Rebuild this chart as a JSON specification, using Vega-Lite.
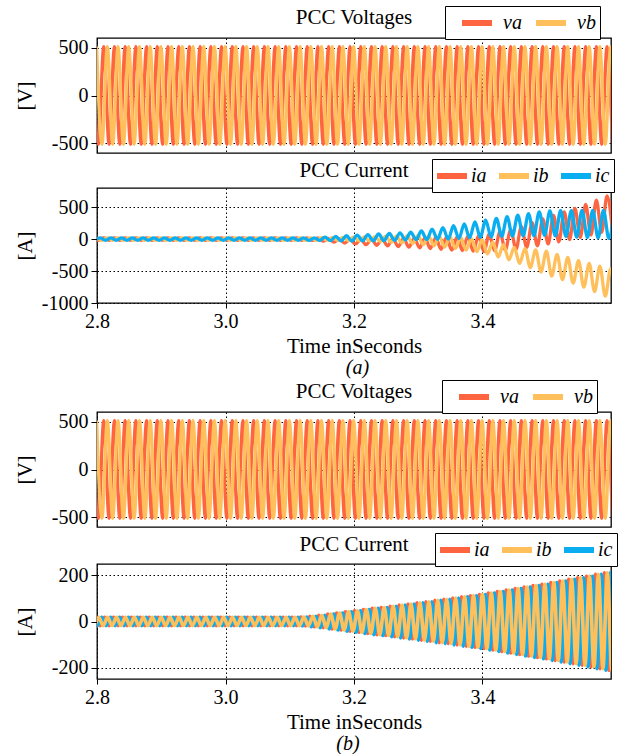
{
"$schema":"https://vega.github.io/schema/vega-lite/v6.json",
"padding":{"left":13,"top":4,"right":4,"bottom":0},
"datasets":{
"volt":[
{"t":2.7938,"v":510,"s":"va"},{"t":2.8022,"v":-510,"s":"va"},{"t":2.8105,"v":510,"s":"va"},{"t":2.8188,"v":-510,"s":"va"},{"t":2.8272,"v":510,"s":"va"},{"t":2.8355,"v":-510,"s":"va"},{"t":2.8438,"v":510,"s":"va"},{"t":2.8522,"v":-510,"s":"va"},{"t":2.8605,"v":510,"s":"va"},{"t":2.8688,"v":-510,"s":"va"},{"t":2.8772,"v":510,"s":"va"},{"t":2.8855,"v":-510,"s":"va"},{"t":2.8938,"v":510,"s":"va"},{"t":2.9022,"v":-510,"s":"va"},{"t":2.9105,"v":510,"s":"va"},{"t":2.9188,"v":-510,"s":"va"},{"t":2.9272,"v":510,"s":"va"},{"t":2.9355,"v":-510,"s":"va"},{"t":2.9438,"v":510,"s":"va"},{"t":2.9522,"v":-510,"s":"va"},{"t":2.9605,"v":510,"s":"va"},{"t":2.9688,"v":-510,"s":"va"},{"t":2.9772,"v":510,"s":"va"},{"t":2.9855,"v":-510,"s":"va"},{"t":2.9938,"v":510,"s":"va"},{"t":3.0022,"v":-510,"s":"va"},{"t":3.0105,"v":510,"s":"va"},{"t":3.0188,"v":-510,"s":"va"},{"t":3.0272,"v":510,"s":"va"},{"t":3.0355,"v":-510,"s":"va"},{"t":3.0438,"v":510,"s":"va"},{"t":3.0522,"v":-510,"s":"va"},{"t":3.0605,"v":510,"s":"va"},{"t":3.0688,"v":-510,"s":"va"},{"t":3.0772,"v":510,"s":"va"},{"t":3.0855,"v":-510,"s":"va"},{"t":3.0938,"v":510,"s":"va"},{"t":3.1022,"v":-510,"s":"va"},{"t":3.1105,"v":510,"s":"va"},{"t":3.1188,"v":-510,"s":"va"},{"t":3.1272,"v":510,"s":"va"},{"t":3.1355,"v":-510,"s":"va"},{"t":3.1438,"v":510,"s":"va"},{"t":3.1522,"v":-510,"s":"va"},{"t":3.1605,"v":510,"s":"va"},{"t":3.1688,"v":-510,"s":"va"},{"t":3.1772,"v":510,"s":"va"},{"t":3.1855,"v":-510,"s":"va"},{"t":3.1938,"v":510,"s":"va"},{"t":3.2022,"v":-510,"s":"va"},{"t":3.2105,"v":510,"s":"va"},{"t":3.2188,"v":-510,"s":"va"},{"t":3.2272,"v":510,"s":"va"},{"t":3.2355,"v":-510,"s":"va"},{"t":3.2438,"v":510,"s":"va"},{"t":3.2522,"v":-510,"s":"va"},{"t":3.2605,"v":510,"s":"va"},{"t":3.2688,"v":-510,"s":"va"},{"t":3.2772,"v":510,"s":"va"},{"t":3.2855,"v":-510,"s":"va"},{"t":3.2938,"v":510,"s":"va"},{"t":3.3022,"v":-510,"s":"va"},{"t":3.3105,"v":510,"s":"va"},{"t":3.3188,"v":-510,"s":"va"},{"t":3.3272,"v":510,"s":"va"},{"t":3.3355,"v":-510,"s":"va"},{"t":3.3438,"v":510,"s":"va"},{"t":3.3522,"v":-510,"s":"va"},{"t":3.3605,"v":510,"s":"va"},{"t":3.3688,"v":-510,"s":"va"},{"t":3.3772,"v":510,"s":"va"},{"t":3.3855,"v":-510,"s":"va"},{"t":3.3938,"v":510,"s":"va"},{"t":3.4022,"v":-510,"s":"va"},{"t":3.4105,"v":510,"s":"va"},{"t":3.4188,"v":-510,"s":"va"},{"t":3.4272,"v":510,"s":"va"},{"t":3.4355,"v":-510,"s":"va"},{"t":3.4438,"v":510,"s":"va"},{"t":3.4522,"v":-510,"s":"va"},{"t":3.4605,"v":510,"s":"va"},{"t":3.4688,"v":-510,"s":"va"},{"t":3.4772,"v":510,"s":"va"},{"t":3.4855,"v":-510,"s":"va"},{"t":3.4938,"v":510,"s":"va"},{"t":3.5022,"v":-510,"s":"va"},{"t":3.5105,"v":510,"s":"va"},{"t":3.5188,"v":-510,"s":"va"},{"t":3.5272,"v":510,"s":"va"},{"t":3.5355,"v":-510,"s":"va"},{"t":3.5438,"v":510,"s":"va"},{"t":3.5522,"v":-510,"s":"va"},{"t":3.5605,"v":510,"s":"va"},{"t":3.5688,"v":-510,"s":"va"},{"t":3.5772,"v":510,"s":"va"},{"t":3.5855,"v":-510,"s":"va"},{"t":3.5938,"v":510,"s":"va"},{"t":3.6022,"v":-510,"s":"va"},
{"t":2.7994,"v":510,"s":"vb"},{"t":2.8077,"v":-510,"s":"vb"},{"t":2.8161,"v":510,"s":"vb"},{"t":2.8244,"v":-510,"s":"vb"},{"t":2.8327,"v":510,"s":"vb"},{"t":2.8411,"v":-510,"s":"vb"},{"t":2.8494,"v":510,"s":"vb"},{"t":2.8577,"v":-510,"s":"vb"},{"t":2.8661,"v":510,"s":"vb"},{"t":2.8744,"v":-510,"s":"vb"},{"t":2.8827,"v":510,"s":"vb"},{"t":2.8911,"v":-510,"s":"vb"},{"t":2.8994,"v":510,"s":"vb"},{"t":2.9077,"v":-510,"s":"vb"},{"t":2.9161,"v":510,"s":"vb"},{"t":2.9244,"v":-510,"s":"vb"},{"t":2.9327,"v":510,"s":"vb"},{"t":2.9411,"v":-510,"s":"vb"},{"t":2.9494,"v":510,"s":"vb"},{"t":2.9577,"v":-510,"s":"vb"},{"t":2.9661,"v":510,"s":"vb"},{"t":2.9744,"v":-510,"s":"vb"},{"t":2.9827,"v":510,"s":"vb"},{"t":2.9911,"v":-510,"s":"vb"},{"t":2.9994,"v":510,"s":"vb"},{"t":3.0077,"v":-510,"s":"vb"},{"t":3.0161,"v":510,"s":"vb"},{"t":3.0244,"v":-510,"s":"vb"},{"t":3.0327,"v":510,"s":"vb"},{"t":3.0411,"v":-510,"s":"vb"},{"t":3.0494,"v":510,"s":"vb"},{"t":3.0577,"v":-510,"s":"vb"},{"t":3.0661,"v":510,"s":"vb"},{"t":3.0744,"v":-510,"s":"vb"},{"t":3.0827,"v":510,"s":"vb"},{"t":3.0911,"v":-510,"s":"vb"},{"t":3.0994,"v":510,"s":"vb"},{"t":3.1077,"v":-510,"s":"vb"},{"t":3.1161,"v":510,"s":"vb"},{"t":3.1244,"v":-510,"s":"vb"},{"t":3.1327,"v":510,"s":"vb"},{"t":3.1411,"v":-510,"s":"vb"},{"t":3.1494,"v":510,"s":"vb"},{"t":3.1577,"v":-510,"s":"vb"},{"t":3.1661,"v":510,"s":"vb"},{"t":3.1744,"v":-510,"s":"vb"},{"t":3.1827,"v":510,"s":"vb"},{"t":3.1911,"v":-510,"s":"vb"},{"t":3.1994,"v":510,"s":"vb"},{"t":3.2077,"v":-510,"s":"vb"},{"t":3.2161,"v":510,"s":"vb"},{"t":3.2244,"v":-510,"s":"vb"},{"t":3.2327,"v":510,"s":"vb"},{"t":3.2411,"v":-510,"s":"vb"},{"t":3.2494,"v":510,"s":"vb"},{"t":3.2577,"v":-510,"s":"vb"},{"t":3.2661,"v":510,"s":"vb"},{"t":3.2744,"v":-510,"s":"vb"},{"t":3.2827,"v":510,"s":"vb"},{"t":3.2911,"v":-510,"s":"vb"},{"t":3.2994,"v":510,"s":"vb"},{"t":3.3077,"v":-510,"s":"vb"},{"t":3.3161,"v":510,"s":"vb"},{"t":3.3244,"v":-510,"s":"vb"},{"t":3.3327,"v":510,"s":"vb"},{"t":3.3411,"v":-510,"s":"vb"},{"t":3.3494,"v":510,"s":"vb"},{"t":3.3577,"v":-510,"s":"vb"},{"t":3.3661,"v":510,"s":"vb"},{"t":3.3744,"v":-510,"s":"vb"},{"t":3.3827,"v":510,"s":"vb"},{"t":3.3911,"v":-510,"s":"vb"},{"t":3.3994,"v":510,"s":"vb"},{"t":3.4077,"v":-510,"s":"vb"},{"t":3.4161,"v":510,"s":"vb"},{"t":3.4244,"v":-510,"s":"vb"},{"t":3.4327,"v":510,"s":"vb"},{"t":3.4411,"v":-510,"s":"vb"},{"t":3.4494,"v":510,"s":"vb"},{"t":3.4577,"v":-510,"s":"vb"},{"t":3.4661,"v":510,"s":"vb"},{"t":3.4744,"v":-510,"s":"vb"},{"t":3.4827,"v":510,"s":"vb"},{"t":3.4911,"v":-510,"s":"vb"},{"t":3.4994,"v":510,"s":"vb"},{"t":3.5077,"v":-510,"s":"vb"},{"t":3.5161,"v":510,"s":"vb"},{"t":3.5244,"v":-510,"s":"vb"},{"t":3.5327,"v":510,"s":"vb"},{"t":3.5411,"v":-510,"s":"vb"},{"t":3.5494,"v":510,"s":"vb"},{"t":3.5577,"v":-510,"s":"vb"},{"t":3.5661,"v":510,"s":"vb"},{"t":3.5744,"v":-510,"s":"vb"},{"t":3.5827,"v":510,"s":"vb"},{"t":3.5911,"v":-510,"s":"vb"},{"t":3.5994,"v":510,"s":"vb"},{"t":3.6077,"v":-510,"s":"vb"}
],
"curA":[
{"t":2.7938,"v":18,"s":"ia"},{"t":2.8022,"v":-18,"s":"ia"},{"t":2.8105,"v":18,"s":"ia"},{"t":2.8188,"v":-18,"s":"ia"},{"t":2.8272,"v":18,"s":"ia"},{"t":2.8355,"v":-18,"s":"ia"},{"t":2.8438,"v":18,"s":"ia"},{"t":2.8522,"v":-18,"s":"ia"},{"t":2.8605,"v":18,"s":"ia"},{"t":2.8688,"v":-18,"s":"ia"},{"t":2.8772,"v":18,"s":"ia"},{"t":2.8855,"v":-18,"s":"ia"},{"t":2.8938,"v":18,"s":"ia"},{"t":2.9022,"v":-18,"s":"ia"},{"t":2.9105,"v":18,"s":"ia"},{"t":2.9188,"v":-18,"s":"ia"},{"t":2.9272,"v":18,"s":"ia"},{"t":2.9355,"v":-18,"s":"ia"},{"t":2.9438,"v":18,"s":"ia"},{"t":2.9522,"v":-18,"s":"ia"},{"t":2.9605,"v":18,"s":"ia"},{"t":2.9688,"v":-18,"s":"ia"},{"t":2.9772,"v":18,"s":"ia"},{"t":2.9855,"v":-18,"s":"ia"},{"t":2.9938,"v":18,"s":"ia"},{"t":3.0022,"v":-18,"s":"ia"},{"t":3.0105,"v":18,"s":"ia"},{"t":3.0188,"v":-18,"s":"ia"},{"t":3.0272,"v":18,"s":"ia"},{"t":3.0355,"v":-18,"s":"ia"},{"t":3.0438,"v":18,"s":"ia"},{"t":3.0522,"v":-18,"s":"ia"},{"t":3.0605,"v":18,"s":"ia"},{"t":3.0688,"v":-18,"s":"ia"},{"t":3.0772,"v":18,"s":"ia"},{"t":3.0855,"v":-18,"s":"ia"},{"t":3.0938,"v":18,"s":"ia"},{"t":3.1022,"v":-18,"s":"ia"},{"t":3.1105,"v":18,"s":"ia"},{"t":3.1188,"v":-18,"s":"ia"},{"t":3.1272,"v":18,"s":"ia"},{"t":3.1355,"v":-20,"s":"ia"},{"t":3.1438,"v":19,"s":"ia"},{"t":3.1522,"v":-32,"s":"ia"},{"t":3.1605,"v":10,"s":"ia"},{"t":3.1688,"v":-48,"s":"ia"},{"t":3.1772,"v":3,"s":"ia"},{"t":3.1855,"v":-62,"s":"ia"},{"t":3.1938,"v":-3,"s":"ia"},{"t":3.2022,"v":-76,"s":"ia"},{"t":3.2105,"v":-3,"s":"ia"},{"t":3.2188,"v":-87,"s":"ia"},{"t":3.2272,"v":0,"s":"ia"},{"t":3.2355,"v":-96,"s":"ia"},{"t":3.2438,"v":4,"s":"ia"},{"t":3.2522,"v":-106,"s":"ia"},{"t":3.2605,"v":7,"s":"ia"},{"t":3.2688,"v":-116,"s":"ia"},{"t":3.2772,"v":11,"s":"ia"},{"t":3.2855,"v":-126,"s":"ia"},{"t":3.2938,"v":14,"s":"ia"},{"t":3.3022,"v":-136,"s":"ia"},{"t":3.3105,"v":18,"s":"ia"},{"t":3.3188,"v":-148,"s":"ia"},{"t":3.3272,"v":24,"s":"ia"},{"t":3.3355,"v":-160,"s":"ia"},{"t":3.3438,"v":28,"s":"ia"},{"t":3.3522,"v":-171,"s":"ia"},{"t":3.3605,"v":35,"s":"ia"},{"t":3.3688,"v":-179,"s":"ia"},{"t":3.3772,"v":44,"s":"ia"},{"t":3.3855,"v":-188,"s":"ia"},{"t":3.3938,"v":52,"s":"ia"},{"t":3.4022,"v":-194,"s":"ia"},{"t":3.4105,"v":77,"s":"ia"},{"t":3.4188,"v":-182,"s":"ia"},{"t":3.4272,"v":112,"s":"ia"},{"t":3.4355,"v":-170,"s":"ia"},{"t":3.4438,"v":147,"s":"ia"},{"t":3.4522,"v":-156,"s":"ia"},{"t":3.4605,"v":197,"s":"ia"},{"t":3.4688,"v":-130,"s":"ia"},{"t":3.4772,"v":258,"s":"ia"},{"t":3.4855,"v":-104,"s":"ia"},{"t":3.4938,"v":318,"s":"ia"},{"t":3.5022,"v":-75,"s":"ia"},{"t":3.5105,"v":373,"s":"ia"},{"t":3.5188,"v":-42,"s":"ia"},{"t":3.5272,"v":427,"s":"ia"},{"t":3.5355,"v":-9,"s":"ia"},{"t":3.5438,"v":480,"s":"ia"},{"t":3.5522,"v":25,"s":"ia"},{"t":3.5605,"v":542,"s":"ia"},{"t":3.5688,"v":65,"s":"ia"},{"t":3.5772,"v":609,"s":"ia"},{"t":3.5855,"v":106,"s":"ia"},{"t":3.5938,"v":675,"s":"ia"},{"t":3.6022,"v":145,"s":"ia"},
{"t":2.7994,"v":18,"s":"ib"},{"t":2.8077,"v":-18,"s":"ib"},{"t":2.8161,"v":18,"s":"ib"},{"t":2.8244,"v":-18,"s":"ib"},{"t":2.8327,"v":18,"s":"ib"},{"t":2.8411,"v":-18,"s":"ib"},{"t":2.8494,"v":18,"s":"ib"},{"t":2.8577,"v":-18,"s":"ib"},{"t":2.8661,"v":18,"s":"ib"},{"t":2.8744,"v":-18,"s":"ib"},{"t":2.8827,"v":18,"s":"ib"},{"t":2.8911,"v":-18,"s":"ib"},{"t":2.8994,"v":18,"s":"ib"},{"t":2.9077,"v":-18,"s":"ib"},{"t":2.9161,"v":18,"s":"ib"},{"t":2.9244,"v":-18,"s":"ib"},{"t":2.9327,"v":18,"s":"ib"},{"t":2.9411,"v":-18,"s":"ib"},{"t":2.9494,"v":18,"s":"ib"},{"t":2.9577,"v":-18,"s":"ib"},{"t":2.9661,"v":18,"s":"ib"},{"t":2.9744,"v":-18,"s":"ib"},{"t":2.9827,"v":18,"s":"ib"},{"t":2.9911,"v":-18,"s":"ib"},{"t":2.9994,"v":18,"s":"ib"},{"t":3.0077,"v":-18,"s":"ib"},{"t":3.0161,"v":18,"s":"ib"},{"t":3.0244,"v":-18,"s":"ib"},{"t":3.0327,"v":18,"s":"ib"},{"t":3.0411,"v":-18,"s":"ib"},{"t":3.0494,"v":18,"s":"ib"},{"t":3.0577,"v":-18,"s":"ib"},{"t":3.0661,"v":18,"s":"ib"},{"t":3.0744,"v":-18,"s":"ib"},{"t":3.0827,"v":18,"s":"ib"},{"t":3.0911,"v":-18,"s":"ib"},{"t":3.0994,"v":18,"s":"ib"},{"t":3.1077,"v":-18,"s":"ib"},{"t":3.1161,"v":18,"s":"ib"},{"t":3.1244,"v":-18,"s":"ib"},{"t":3.1327,"v":18,"s":"ib"},{"t":3.1411,"v":-20,"s":"ib"},{"t":3.1494,"v":22,"s":"ib"},{"t":3.1577,"v":-20,"s":"ib"},{"t":3.1661,"v":24,"s":"ib"},{"t":3.1744,"v":-20,"s":"ib"},{"t":3.1827,"v":27,"s":"ib"},{"t":3.1911,"v":-20,"s":"ib"},{"t":3.1994,"v":30,"s":"ib"},{"t":3.2077,"v":-24,"s":"ib"},{"t":3.2161,"v":34,"s":"ib"},{"t":3.2244,"v":-32,"s":"ib"},{"t":3.2327,"v":40,"s":"ib"},{"t":3.2411,"v":-40,"s":"ib"},{"t":3.2494,"v":45,"s":"ib"},{"t":3.2577,"v":-50,"s":"ib"},{"t":3.2661,"v":48,"s":"ib"},{"t":3.2744,"v":-60,"s":"ib"},{"t":3.2827,"v":52,"s":"ib"},{"t":3.2911,"v":-69,"s":"ib"},{"t":3.2994,"v":55,"s":"ib"},{"t":3.3077,"v":-84,"s":"ib"},{"t":3.3161,"v":48,"s":"ib"},{"t":3.3244,"v":-105,"s":"ib"},{"t":3.3327,"v":42,"s":"ib"},{"t":3.3411,"v":-124,"s":"ib"},{"t":3.3494,"v":35,"s":"ib"},{"t":3.3577,"v":-146,"s":"ib"},{"t":3.3661,"v":21,"s":"ib"},{"t":3.3744,"v":-171,"s":"ib"},{"t":3.3827,"v":6,"s":"ib"},{"t":3.3911,"v":-196,"s":"ib"},{"t":3.3994,"v":-9,"s":"ib"},{"t":3.4077,"v":-232,"s":"ib"},{"t":3.4161,"v":-49,"s":"ib"},{"t":3.4244,"v":-278,"s":"ib"},{"t":3.4327,"v":-88,"s":"ib"},{"t":3.4411,"v":-325,"s":"ib"},{"t":3.4494,"v":-129,"s":"ib"},{"t":3.4577,"v":-381,"s":"ib"},{"t":3.4661,"v":-149,"s":"ib"},{"t":3.4744,"v":-447,"s":"ib"},{"t":3.4827,"v":-169,"s":"ib"},{"t":3.4911,"v":-515,"s":"ib"},{"t":3.4994,"v":-188,"s":"ib"},{"t":3.5077,"v":-577,"s":"ib"},{"t":3.5161,"v":-239,"s":"ib"},{"t":3.5244,"v":-633,"s":"ib"},{"t":3.5327,"v":-288,"s":"ib"},{"t":3.5411,"v":-690,"s":"ib"},{"t":3.5494,"v":-338,"s":"ib"},{"t":3.5577,"v":-752,"s":"ib"},{"t":3.5661,"v":-382,"s":"ib"},{"t":3.5744,"v":-823,"s":"ib"},{"t":3.5827,"v":-425,"s":"ib"},{"t":3.5911,"v":-893,"s":"ib"},{"t":3.5994,"v":-468,"s":"ib"},{"t":3.6077,"v":-930,"s":"ib"},
{"t":2.7966,"v":-18,"s":"ic"},{"t":2.8049,"v":18,"s":"ic"},{"t":2.8133,"v":-18,"s":"ic"},{"t":2.8216,"v":18,"s":"ic"},{"t":2.8299,"v":-18,"s":"ic"},{"t":2.8383,"v":18,"s":"ic"},{"t":2.8466,"v":-18,"s":"ic"},{"t":2.8549,"v":18,"s":"ic"},{"t":2.8633,"v":-18,"s":"ic"},{"t":2.8716,"v":18,"s":"ic"},{"t":2.8799,"v":-18,"s":"ic"},{"t":2.8883,"v":18,"s":"ic"},{"t":2.8966,"v":-18,"s":"ic"},{"t":2.9049,"v":18,"s":"ic"},{"t":2.9133,"v":-18,"s":"ic"},{"t":2.9216,"v":18,"s":"ic"},{"t":2.9299,"v":-18,"s":"ic"},{"t":2.9383,"v":18,"s":"ic"},{"t":2.9466,"v":-18,"s":"ic"},{"t":2.9549,"v":18,"s":"ic"},{"t":2.9633,"v":-18,"s":"ic"},{"t":2.9716,"v":18,"s":"ic"},{"t":2.9799,"v":-18,"s":"ic"},{"t":2.9883,"v":18,"s":"ic"},{"t":2.9966,"v":-18,"s":"ic"},{"t":3.0049,"v":18,"s":"ic"},{"t":3.0133,"v":-18,"s":"ic"},{"t":3.0216,"v":18,"s":"ic"},{"t":3.0299,"v":-18,"s":"ic"},{"t":3.0383,"v":18,"s":"ic"},{"t":3.0466,"v":-18,"s":"ic"},{"t":3.0549,"v":18,"s":"ic"},{"t":3.0633,"v":-18,"s":"ic"},{"t":3.0716,"v":18,"s":"ic"},{"t":3.0799,"v":-18,"s":"ic"},{"t":3.0883,"v":18,"s":"ic"},{"t":3.0966,"v":-18,"s":"ic"},{"t":3.1049,"v":18,"s":"ic"},{"t":3.1133,"v":-18,"s":"ic"},{"t":3.1216,"v":18,"s":"ic"},{"t":3.1299,"v":-20,"s":"ic"},{"t":3.1383,"v":20,"s":"ic"},{"t":3.1466,"v":-20,"s":"ic"},{"t":3.1549,"v":30,"s":"ic"},{"t":3.1633,"v":-24,"s":"ic"},{"t":3.1716,"v":42,"s":"ic"},{"t":3.1799,"v":-27,"s":"ic"},{"t":3.1883,"v":53,"s":"ic"},{"t":3.1966,"v":-30,"s":"ic"},{"t":3.2049,"v":63,"s":"ic"},{"t":3.2133,"v":-28,"s":"ic"},{"t":3.2216,"v":71,"s":"ic"},{"t":3.2299,"v":-27,"s":"ic"},{"t":3.2383,"v":80,"s":"ic"},{"t":3.2466,"v":-25,"s":"ic"},{"t":3.2549,"v":88,"s":"ic"},{"t":3.2633,"v":-20,"s":"ic"},{"t":3.2716,"v":99,"s":"ic"},{"t":3.2799,"v":-14,"s":"ic"},{"t":3.2883,"v":110,"s":"ic"},{"t":3.2966,"v":-9,"s":"ic"},{"t":3.3049,"v":127,"s":"ic"},{"t":3.3133,"v":-7,"s":"ic"},{"t":3.3216,"v":154,"s":"ic"},{"t":3.3299,"v":-4,"s":"ic"},{"t":3.3383,"v":181,"s":"ic"},{"t":3.3466,"v":-1,"s":"ic"},{"t":3.3549,"v":209,"s":"ic"},{"t":3.3633,"v":8,"s":"ic"},{"t":3.3716,"v":239,"s":"ic"},{"t":3.3799,"v":18,"s":"ic"},{"t":3.3883,"v":269,"s":"ic"},{"t":3.3966,"v":28,"s":"ic"},{"t":3.4049,"v":298,"s":"ic"},{"t":3.4133,"v":35,"s":"ic"},{"t":3.4216,"v":325,"s":"ic"},{"t":3.4299,"v":42,"s":"ic"},{"t":3.4383,"v":351,"s":"ic"},{"t":3.4466,"v":49,"s":"ic"},{"t":3.4549,"v":377,"s":"ic"},{"t":3.4633,"v":53,"s":"ic"},{"t":3.4716,"v":400,"s":"ic"},{"t":3.4799,"v":56,"s":"ic"},{"t":3.4883,"v":424,"s":"ic"},{"t":3.4966,"v":59,"s":"ic"},{"t":3.5049,"v":441,"s":"ic"},{"t":3.5133,"v":51,"s":"ic"},{"t":3.5216,"v":445,"s":"ic"},{"t":3.5299,"v":42,"s":"ic"},{"t":3.5383,"v":447,"s":"ic"},{"t":3.5466,"v":33,"s":"ic"},{"t":3.5549,"v":449,"s":"ic"},{"t":3.5633,"v":25,"s":"ic"},{"t":3.5716,"v":450,"s":"ic"},{"t":3.5799,"v":18,"s":"ic"},{"t":3.5883,"v":450,"s":"ic"},{"t":3.5966,"v":11,"s":"ic"},{"t":3.6049,"v":450,"s":"ic"}
],
"curB":[
{"t":2.7841,"v":18,"s":"ia"},{"t":2.7864,"v":-18,"s":"ic"},{"t":2.7887,"v":18,"s":"ib"},{"t":2.7911,"v":-18,"s":"ia"},{"t":2.7934,"v":18,"s":"ic"},{"t":2.7957,"v":-18,"s":"ib"},
{"t":2.7980,"v":18,"s":"ia"},{"t":2.8003,"v":-18,"s":"ic"},{"t":2.8026,"v":18,"s":"ib"},{"t":2.8049,"v":-18,"s":"ia"},{"t":2.8073,"v":18,"s":"ic"},{"t":2.8096,"v":-18,"s":"ib"},
{"t":2.8119,"v":18,"s":"ia"},{"t":2.8142,"v":-18,"s":"ic"},{"t":2.8165,"v":18,"s":"ib"},{"t":2.8188,"v":-18,"s":"ia"},{"t":2.8211,"v":18,"s":"ic"},{"t":2.8235,"v":-18,"s":"ib"},
{"t":2.8258,"v":18,"s":"ia"},{"t":2.8281,"v":-18,"s":"ic"},{"t":2.8304,"v":18,"s":"ib"},{"t":2.8327,"v":-18,"s":"ia"},{"t":2.8350,"v":18,"s":"ic"},{"t":2.8374,"v":-18,"s":"ib"},
{"t":2.8397,"v":18,"s":"ia"},{"t":2.8420,"v":-18,"s":"ic"},{"t":2.8443,"v":18,"s":"ib"},{"t":2.8466,"v":-18,"s":"ia"},{"t":2.8489,"v":18,"s":"ic"},{"t":2.8512,"v":-18,"s":"ib"},
{"t":2.8536,"v":18,"s":"ia"},{"t":2.8559,"v":-18,"s":"ic"},{"t":2.8582,"v":18,"s":"ib"},{"t":2.8605,"v":-18,"s":"ia"},{"t":2.8628,"v":18,"s":"ic"},{"t":2.8651,"v":-18,"s":"ib"},
{"t":2.8674,"v":18,"s":"ia"},{"t":2.8698,"v":-18,"s":"ic"},{"t":2.8721,"v":18,"s":"ib"},{"t":2.8744,"v":-18,"s":"ia"},{"t":2.8767,"v":18,"s":"ic"},{"t":2.8790,"v":-18,"s":"ib"},
{"t":2.8813,"v":18,"s":"ia"},{"t":2.8836,"v":-18,"s":"ic"},{"t":2.8860,"v":18,"s":"ib"},{"t":2.8883,"v":-18,"s":"ia"},{"t":2.8906,"v":18,"s":"ic"},{"t":2.8929,"v":-18,"s":"ib"},
{"t":2.8952,"v":18,"s":"ia"},{"t":2.8975,"v":-18,"s":"ic"},{"t":2.8999,"v":18,"s":"ib"},{"t":2.9022,"v":-18,"s":"ia"},{"t":2.9045,"v":18,"s":"ic"},{"t":2.9068,"v":-18,"s":"ib"},
{"t":2.9091,"v":18,"s":"ia"},{"t":2.9114,"v":-18,"s":"ic"},{"t":2.9137,"v":18,"s":"ib"},{"t":2.9161,"v":-18,"s":"ia"},{"t":2.9184,"v":18,"s":"ic"},{"t":2.9207,"v":-18,"s":"ib"},
{"t":2.9230,"v":18,"s":"ia"},{"t":2.9253,"v":-18,"s":"ic"},{"t":2.9276,"v":18,"s":"ib"},{"t":2.9299,"v":-18,"s":"ia"},{"t":2.9323,"v":18,"s":"ic"},{"t":2.9346,"v":-18,"s":"ib"},
{"t":2.9369,"v":18,"s":"ia"},{"t":2.9392,"v":-18,"s":"ic"},{"t":2.9415,"v":18,"s":"ib"},{"t":2.9438,"v":-18,"s":"ia"},{"t":2.9461,"v":18,"s":"ic"},{"t":2.9485,"v":-18,"s":"ib"},
{"t":2.9508,"v":18,"s":"ia"},{"t":2.9531,"v":-18,"s":"ic"},{"t":2.9554,"v":18,"s":"ib"},{"t":2.9577,"v":-18,"s":"ia"},{"t":2.9600,"v":18,"s":"ic"},{"t":2.9624,"v":-18,"s":"ib"},
{"t":2.9647,"v":18,"s":"ia"},{"t":2.9670,"v":-18,"s":"ic"},{"t":2.9693,"v":18,"s":"ib"},{"t":2.9716,"v":-18,"s":"ia"},{"t":2.9739,"v":18,"s":"ic"},{"t":2.9762,"v":-18,"s":"ib"},
{"t":2.9786,"v":18,"s":"ia"},{"t":2.9809,"v":-18,"s":"ic"},{"t":2.9832,"v":18,"s":"ib"},{"t":2.9855,"v":-18,"s":"ia"},{"t":2.9878,"v":18,"s":"ic"},{"t":2.9901,"v":-18,"s":"ib"},
{"t":2.9924,"v":18,"s":"ia"},{"t":2.9948,"v":-18,"s":"ic"},{"t":2.9971,"v":18,"s":"ib"},{"t":2.9994,"v":-18,"s":"ia"},{"t":3.0017,"v":18,"s":"ic"},{"t":3.0040,"v":-18,"s":"ib"},
{"t":3.0063,"v":18,"s":"ia"},{"t":3.0086,"v":-18,"s":"ic"},{"t":3.0110,"v":18,"s":"ib"},{"t":3.0133,"v":-18,"s":"ia"},{"t":3.0156,"v":18,"s":"ic"},{"t":3.0179,"v":-18,"s":"ib"},
{"t":3.0202,"v":18,"s":"ia"},{"t":3.0225,"v":-18,"s":"ic"},{"t":3.0249,"v":18,"s":"ib"},{"t":3.0272,"v":-18,"s":"ia"},{"t":3.0295,"v":18,"s":"ic"},{"t":3.0318,"v":-18,"s":"ib"},
{"t":3.0341,"v":18,"s":"ia"},{"t":3.0364,"v":-18,"s":"ic"},{"t":3.0387,"v":18,"s":"ib"},{"t":3.0411,"v":-18,"s":"ia"},{"t":3.0434,"v":18,"s":"ic"},{"t":3.0457,"v":-18,"s":"ib"},
{"t":3.0480,"v":18,"s":"ia"},{"t":3.0503,"v":-18,"s":"ic"},{"t":3.0526,"v":18,"s":"ib"},{"t":3.0549,"v":-18,"s":"ia"},{"t":3.0573,"v":18,"s":"ic"},{"t":3.0596,"v":-18,"s":"ib"},
{"t":3.0619,"v":18,"s":"ia"},{"t":3.0642,"v":-18,"s":"ic"},{"t":3.0665,"v":18,"s":"ib"},{"t":3.0688,"v":-18,"s":"ia"},{"t":3.0711,"v":18,"s":"ic"},{"t":3.0735,"v":-18,"s":"ib"},
{"t":3.0758,"v":18,"s":"ia"},{"t":3.0781,"v":-18,"s":"ic"},{"t":3.0804,"v":18,"s":"ib"},{"t":3.0827,"v":-18,"s":"ia"},{"t":3.0850,"v":18,"s":"ic"},{"t":3.0874,"v":-18,"s":"ib"},
{"t":3.0897,"v":18,"s":"ia"},{"t":3.0920,"v":-18,"s":"ic"},{"t":3.0943,"v":18,"s":"ib"},{"t":3.0966,"v":-18,"s":"ia"},{"t":3.0989,"v":18,"s":"ic"},{"t":3.1012,"v":-18,"s":"ib"},
{"t":3.1036,"v":18,"s":"ia"},{"t":3.1059,"v":-18,"s":"ic"},{"t":3.1082,"v":18,"s":"ib"},{"t":3.1105,"v":-18,"s":"ia"},{"t":3.1128,"v":18,"s":"ic"},{"t":3.1151,"v":-18,"s":"ib"},
{"t":3.1174,"v":19,"s":"ia"},{"t":3.1198,"v":-19,"s":"ic"},{"t":3.1221,"v":19,"s":"ib"},{"t":3.1244,"v":-19,"s":"ia"},{"t":3.1267,"v":19,"s":"ic"},{"t":3.1290,"v":-19,"s":"ib"},
{"t":3.1313,"v":23,"s":"ia"},{"t":3.1336,"v":-23,"s":"ic"},{"t":3.1360,"v":23,"s":"ib"},{"t":3.1383,"v":-23,"s":"ia"},{"t":3.1406,"v":23,"s":"ic"},{"t":3.1429,"v":-23,"s":"ib"},
{"t":3.1452,"v":27,"s":"ia"},{"t":3.1475,"v":-27,"s":"ic"},{"t":3.1499,"v":27,"s":"ib"},{"t":3.1522,"v":-27,"s":"ia"},{"t":3.1545,"v":27,"s":"ic"},{"t":3.1568,"v":-27,"s":"ib"},
{"t":3.1591,"v":32,"s":"ia"},{"t":3.1614,"v":-32,"s":"ic"},{"t":3.1637,"v":32,"s":"ib"},{"t":3.1661,"v":-32,"s":"ia"},{"t":3.1684,"v":32,"s":"ic"},{"t":3.1707,"v":-32,"s":"ib"},
{"t":3.1730,"v":37,"s":"ia"},{"t":3.1753,"v":-37,"s":"ic"},{"t":3.1776,"v":37,"s":"ib"},{"t":3.1799,"v":-37,"s":"ia"},{"t":3.1823,"v":37,"s":"ic"},{"t":3.1846,"v":-37,"s":"ib"},
{"t":3.1869,"v":42,"s":"ia"},{"t":3.1892,"v":-42,"s":"ic"},{"t":3.1915,"v":42,"s":"ib"},{"t":3.1938,"v":-42,"s":"ia"},{"t":3.1961,"v":42,"s":"ic"},{"t":3.1985,"v":-42,"s":"ib"},
{"t":3.2008,"v":47,"s":"ia"},{"t":3.2031,"v":-47,"s":"ic"},{"t":3.2054,"v":47,"s":"ib"},{"t":3.2077,"v":-47,"s":"ia"},{"t":3.2100,"v":47,"s":"ic"},{"t":3.2124,"v":-47,"s":"ib"},
{"t":3.2147,"v":52,"s":"ia"},{"t":3.2170,"v":-52,"s":"ic"},{"t":3.2193,"v":52,"s":"ib"},{"t":3.2216,"v":-52,"s":"ia"},{"t":3.2239,"v":52,"s":"ic"},{"t":3.2262,"v":-52,"s":"ib"},
{"t":3.2286,"v":57,"s":"ia"},{"t":3.2309,"v":-57,"s":"ic"},{"t":3.2332,"v":57,"s":"ib"},{"t":3.2355,"v":-57,"s":"ia"},{"t":3.2378,"v":57,"s":"ic"},{"t":3.2401,"v":-57,"s":"ib"},
{"t":3.2424,"v":61,"s":"ia"},{"t":3.2448,"v":-61,"s":"ic"},{"t":3.2471,"v":61,"s":"ib"},{"t":3.2494,"v":-61,"s":"ia"},{"t":3.2517,"v":61,"s":"ic"},{"t":3.2540,"v":-61,"s":"ib"},
{"t":3.2563,"v":66,"s":"ia"},{"t":3.2586,"v":-66,"s":"ic"},{"t":3.2610,"v":66,"s":"ib"},{"t":3.2633,"v":-66,"s":"ia"},{"t":3.2656,"v":66,"s":"ic"},{"t":3.2679,"v":-66,"s":"ib"},
{"t":3.2702,"v":71,"s":"ia"},{"t":3.2725,"v":-71,"s":"ic"},{"t":3.2749,"v":71,"s":"ib"},{"t":3.2772,"v":-71,"s":"ia"},{"t":3.2795,"v":71,"s":"ic"},{"t":3.2818,"v":-71,"s":"ib"},
{"t":3.2841,"v":76,"s":"ia"},{"t":3.2864,"v":-76,"s":"ic"},{"t":3.2887,"v":76,"s":"ib"},{"t":3.2911,"v":-76,"s":"ia"},{"t":3.2934,"v":76,"s":"ic"},{"t":3.2957,"v":-76,"s":"ib"},
{"t":3.2980,"v":81,"s":"ia"},{"t":3.3003,"v":-81,"s":"ic"},{"t":3.3026,"v":81,"s":"ib"},{"t":3.3049,"v":-81,"s":"ia"},{"t":3.3073,"v":81,"s":"ic"},{"t":3.3096,"v":-81,"s":"ib"},
{"t":3.3119,"v":86,"s":"ia"},{"t":3.3142,"v":-86,"s":"ic"},{"t":3.3165,"v":86,"s":"ib"},{"t":3.3188,"v":-86,"s":"ia"},{"t":3.3211,"v":86,"s":"ic"},{"t":3.3235,"v":-86,"s":"ib"},
{"t":3.3258,"v":92,"s":"ia"},{"t":3.3281,"v":-92,"s":"ic"},{"t":3.3304,"v":92,"s":"ib"},{"t":3.3327,"v":-92,"s":"ia"},{"t":3.3350,"v":92,"s":"ic"},{"t":3.3374,"v":-92,"s":"ib"},
{"t":3.3397,"v":96,"s":"ia"},{"t":3.3420,"v":-96,"s":"ic"},{"t":3.3443,"v":96,"s":"ib"},{"t":3.3466,"v":-96,"s":"ia"},{"t":3.3489,"v":96,"s":"ic"},{"t":3.3512,"v":-96,"s":"ib"},
{"t":3.3536,"v":102,"s":"ia"},{"t":3.3559,"v":-102,"s":"ic"},{"t":3.3582,"v":102,"s":"ib"},{"t":3.3605,"v":-102,"s":"ia"},{"t":3.3628,"v":102,"s":"ic"},{"t":3.3651,"v":-102,"s":"ib"},
{"t":3.3674,"v":107,"s":"ia"},{"t":3.3698,"v":-107,"s":"ic"},{"t":3.3721,"v":107,"s":"ib"},{"t":3.3744,"v":-107,"s":"ia"},{"t":3.3767,"v":107,"s":"ic"},{"t":3.3790,"v":-107,"s":"ib"},
{"t":3.3813,"v":112,"s":"ia"},{"t":3.3836,"v":-112,"s":"ic"},{"t":3.3860,"v":112,"s":"ib"},{"t":3.3883,"v":-112,"s":"ia"},{"t":3.3906,"v":112,"s":"ic"},{"t":3.3929,"v":-112,"s":"ib"},
{"t":3.3952,"v":117,"s":"ia"},{"t":3.3975,"v":-117,"s":"ic"},{"t":3.3999,"v":117,"s":"ib"},{"t":3.4022,"v":-117,"s":"ia"},{"t":3.4045,"v":117,"s":"ic"},{"t":3.4068,"v":-117,"s":"ib"},
{"t":3.4091,"v":124,"s":"ia"},{"t":3.4114,"v":-124,"s":"ic"},{"t":3.4137,"v":124,"s":"ib"},{"t":3.4161,"v":-124,"s":"ia"},{"t":3.4184,"v":124,"s":"ic"},{"t":3.4207,"v":-124,"s":"ib"},
{"t":3.4230,"v":130,"s":"ia"},{"t":3.4253,"v":-130,"s":"ic"},{"t":3.4276,"v":130,"s":"ib"},{"t":3.4299,"v":-130,"s":"ia"},{"t":3.4323,"v":130,"s":"ic"},{"t":3.4346,"v":-130,"s":"ib"},
{"t":3.4369,"v":137,"s":"ia"},{"t":3.4392,"v":-137,"s":"ic"},{"t":3.4415,"v":137,"s":"ib"},{"t":3.4438,"v":-137,"s":"ia"},{"t":3.4461,"v":137,"s":"ic"},{"t":3.4485,"v":-137,"s":"ib"},
{"t":3.4508,"v":143,"s":"ia"},{"t":3.4531,"v":-143,"s":"ic"},{"t":3.4554,"v":143,"s":"ib"},{"t":3.4577,"v":-143,"s":"ia"},{"t":3.4600,"v":143,"s":"ic"},{"t":3.4624,"v":-143,"s":"ib"},
{"t":3.4647,"v":150,"s":"ia"},{"t":3.4670,"v":-150,"s":"ic"},{"t":3.4693,"v":150,"s":"ib"},{"t":3.4716,"v":-150,"s":"ia"},{"t":3.4739,"v":150,"s":"ic"},{"t":3.4762,"v":-150,"s":"ib"},
{"t":3.4786,"v":156,"s":"ia"},{"t":3.4809,"v":-156,"s":"ic"},{"t":3.4832,"v":156,"s":"ib"},{"t":3.4855,"v":-156,"s":"ia"},{"t":3.4878,"v":156,"s":"ic"},{"t":3.4901,"v":-156,"s":"ib"},
{"t":3.4924,"v":162,"s":"ia"},{"t":3.4948,"v":-162,"s":"ic"},{"t":3.4971,"v":162,"s":"ib"},{"t":3.4994,"v":-162,"s":"ia"},{"t":3.5017,"v":162,"s":"ic"},{"t":3.5040,"v":-162,"s":"ib"},
{"t":3.5063,"v":169,"s":"ia"},{"t":3.5086,"v":-169,"s":"ic"},{"t":3.5110,"v":169,"s":"ib"},{"t":3.5133,"v":-169,"s":"ia"},{"t":3.5156,"v":169,"s":"ic"},{"t":3.5179,"v":-169,"s":"ib"},
{"t":3.5202,"v":176,"s":"ia"},{"t":3.5225,"v":-176,"s":"ic"},{"t":3.5249,"v":176,"s":"ib"},{"t":3.5272,"v":-176,"s":"ia"},{"t":3.5295,"v":176,"s":"ic"},{"t":3.5318,"v":-176,"s":"ib"},
{"t":3.5341,"v":183,"s":"ia"},{"t":3.5364,"v":-183,"s":"ic"},{"t":3.5387,"v":183,"s":"ib"},{"t":3.5411,"v":-183,"s":"ia"},{"t":3.5434,"v":183,"s":"ic"},{"t":3.5457,"v":-183,"s":"ib"},
{"t":3.5480,"v":190,"s":"ia"},{"t":3.5503,"v":-190,"s":"ic"},{"t":3.5526,"v":190,"s":"ib"},{"t":3.5549,"v":-190,"s":"ia"},{"t":3.5573,"v":190,"s":"ic"},{"t":3.5596,"v":-190,"s":"ib"},
{"t":3.5619,"v":197,"s":"ia"},{"t":3.5642,"v":-197,"s":"ic"},{"t":3.5665,"v":197,"s":"ib"},{"t":3.5688,"v":-197,"s":"ia"},{"t":3.5711,"v":197,"s":"ic"},{"t":3.5735,"v":-197,"s":"ib"},
{"t":3.5758,"v":205,"s":"ia"},{"t":3.5781,"v":-205,"s":"ic"},{"t":3.5804,"v":205,"s":"ib"},{"t":3.5827,"v":-205,"s":"ia"},{"t":3.5850,"v":205,"s":"ic"},{"t":3.5874,"v":-205,"s":"ib"},
{"t":3.5897,"v":212,"s":"ia"},{"t":3.5920,"v":-212,"s":"ic"},{"t":3.5943,"v":212,"s":"ib"},{"t":3.5966,"v":-212,"s":"ia"},{"t":3.5989,"v":212,"s":"ic"},{"t":3.6012,"v":-212,"s":"ib"},
{"t":3.6036,"v":218,"s":"ia"},{"t":3.6059,"v":-218,"s":"ic"},{"t":3.6082,"v":218,"s":"ib"},{"t":3.6105,"v":-218,"s":"ia"},{"t":3.6128,"v":218,"s":"ic"},{"t":3.6151,"v":-218,"s":"ib"}
]
},
"vconcat":[
{
"spacing":2,
"resolve":{"scale":{"color":"independent"},"legend":{"color":"independent"}},
"title":{"text":"(a)","orient":"bottom","anchor":"middle","font":"Liberation Serif","fontStyle":"italic","fontSize":20,"dx":43,"offset":1},
"vconcat":[
{
"width":514,"height":115,
"title":{"text":"PCC Voltages","anchor":"middle","frame":"group","offset":-22,"font":"Liberation Serif"},
"data":{"name":"volt"},
"mark":{"type":"line","interpolate":"monotone","strokeWidth":3.3,"clip":true},
"encoding":{
"x":{"field":"t","type":"quantitative","scale":{"domain":[2.8,3.6],"nice":false,"zero":false},"axis":{"values":[2.8,3.0,3.2,3.4],"labels":false,"ticks":false,"title":null}},
"y":{"field":"v","type":"quantitative","scale":{"domain":[-600,600],"nice":false},"axis":{"values":[-500,0,500],"title":"[V]","titlePadding":16,"labelExpr":"'' + datum.value","labelFont":"Liberation Serif","titleFont":"Liberation Serif"}},
"color":{"field":"s","type":"nominal","scale":{"domain":["va","vb"],"range":["#FF6440","#FFC05C"]},"legend":{"title":null,"orient":"none","legendX":348,"legendY":-32,"direction":"horizontal","columns":2,"columnPadding":1,"symbolOffset":15,"labelOffset":13,"labelFont":"Liberation Serif"}}
}
},
{
"width":514,"height":115,
"title":{"text":"PCC Current","anchor":"middle","frame":"group","offset":-22,"font":"Liberation Serif"},
"data":{"name":"curA"},
"mark":{"type":"line","interpolate":"monotone","strokeWidth":3.3,"clip":true},
"encoding":{
"x":{"field":"t","type":"quantitative","scale":{"domain":[2.8,3.6],"nice":false,"zero":false},"axis":{"values":[2.8,3.0,3.2,3.4],"format":".1f","title":"Time inSeconds","tickSize":5,"labelFont":"Liberation Serif","titleFont":"Liberation Serif"}},
"y":{"field":"v","type":"quantitative","scale":{"domain":[-1000,800],"nice":false},"axis":{"values":[-1000,-500,0,500],"title":"[A]","titlePadding":6,"labelExpr":"'' + datum.value","labelFont":"Liberation Serif","titleFont":"Liberation Serif"}},
"color":{"field":"s","type":"nominal","scale":{"domain":["ia","ib","ic"],"range":["#FF6440","#FFC05C","#0AAEF0"]},"legend":{"title":null,"orient":"none","legendX":335,"legendY":-29,"direction":"horizontal","columns":3,"columnPadding":0,"symbolOffset":3,"labelOffset":6,"labelFont":"Liberation Serif"}}
}
}
]
},
{
"spacing":2,
"resolve":{"scale":{"color":"independent"},"legend":{"color":"independent"}},
"title":{"text":"(b)","orient":"bottom","anchor":"middle","font":"Liberation Serif","fontStyle":"italic","fontSize":20,"dx":32,"offset":1},
"vconcat":[
{
"width":514,"height":115,
"title":{"text":"PCC Voltages","anchor":"middle","frame":"group","offset":-22,"font":"Liberation Serif"},
"data":{"name":"volt"},
"mark":{"type":"line","interpolate":"monotone","strokeWidth":3.3,"clip":true},
"encoding":{
"x":{"field":"t","type":"quantitative","scale":{"domain":[2.8,3.6],"nice":false,"zero":false},"axis":{"values":[2.8,3.0,3.2,3.4],"labels":false,"ticks":false,"title":null}},
"y":{"field":"v","type":"quantitative","scale":{"domain":[-600,600],"nice":false},"axis":{"values":[-500,0,500],"title":"[V]","titlePadding":16,"labelExpr":"'' + datum.value","labelFont":"Liberation Serif","titleFont":"Liberation Serif"}},
"color":{"field":"s","type":"nominal","scale":{"domain":["va","vb"],"range":["#FF6440","#FFC05C"]},"legend":{"title":null,"orient":"none","legendX":345,"legendY":-32,"direction":"horizontal","columns":2,"columnPadding":1,"symbolOffset":15,"labelOffset":13,"labelFont":"Liberation Serif"}}
}
},
{
"width":514,"height":115,
"title":{"text":"PCC Current","anchor":"middle","frame":"group","offset":-22,"font":"Liberation Serif"},
"data":{"name":"curB"},
"mark":{"type":"line","interpolate":"monotone","strokeWidth":3.6,"clip":true},
"encoding":{
"x":{"field":"t","type":"quantitative","scale":{"domain":[2.8,3.6],"nice":false,"zero":false},"axis":{"values":[2.8,3.0,3.2,3.4],"format":".1f","title":"Time inSeconds","tickSize":5,"labelFont":"Liberation Serif","titleFont":"Liberation Serif"}},
"y":{"field":"v","type":"quantitative","scale":{"domain":[-250,250],"nice":false},"axis":{"values":[-200,0,200],"title":"[A]","titlePadding":16,"labelExpr":"'' + datum.value","labelFont":"Liberation Serif","titleFont":"Liberation Serif"}},
"color":{"field":"s","type":"nominal","scale":{"domain":["ia","ib","ic"],"range":["#FF6440","#FFC05C","#0AAEF0"]},"legend":{"title":null,"orient":"none","legendX":338,"legendY":-31,"direction":"horizontal","columns":3,"columnPadding":0,"symbolOffset":3,"labelOffset":6,"labelFont":"Liberation Serif"}}
}
}
]
}
],
"spacing":0,
"resolve":{"scale":{"color":"independent"},"legend":{"color":"independent"}},
"config":{
"font":"Liberation Serif",
"view":{"stroke":"black","strokeWidth":1.3},
"style":{"guide-label":{"font":"Liberation Serif","fontSize":20,"fill":"black"},"guide-title":{"font":"Liberation Serif","fontWeight":"normal","fill":"black"},"group-title":{"font":"Liberation Serif","fontWeight":"normal"}},
"axis":{"labelFont":"Liberation Serif","labelFontSize":20,"labelColor":"black","labelFlush":false,"labelOverlap":false,"titleFont":"Liberation Serif","titleFontSize":21,"titleFontWeight":"normal","titleColor":"black","tickColor":"black","tickSize":6,"domain":false,"grid":true,"gridColor":"black","gridDash":[1.5,2.5],"gridOpacity":1,"gridWidth":1,"labelPadding":3},
"title":{"font":"Liberation Serif","fontSize":21,"fontWeight":"normal","color":"black"},
"legend":{"symbolType":"M-1.5,0L1.5,0","symbolSize":400,"symbolStrokeWidth":6,"labelFont":"Liberation Serif","labelFontSize":20,"labelFontStyle":"italic","labelColor":"black","padding":4,"strokeColor":"black","fillColor":"white"}
}
}
